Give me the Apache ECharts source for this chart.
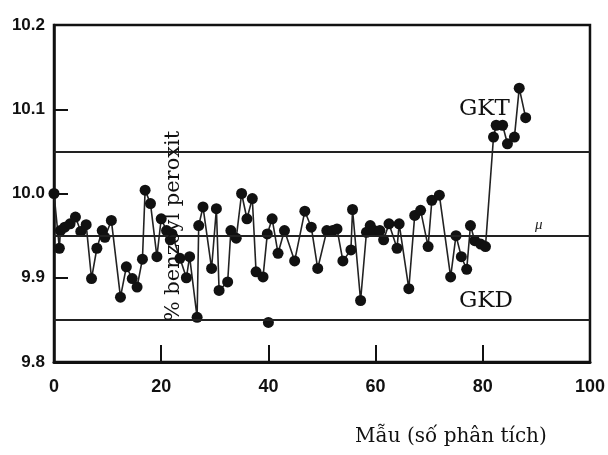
<!DOCTYPE html>
<html>
<head>
<meta charset="utf-8">
<script src="https://cdn.jsdelivr.net/npm/echarts@6/dist/echarts.min.js"></script>
<style>
  html, body { margin: 0; padding: 0; background: #fff; }
  #main { width: 608px; height: 455px; }
</style>
</head>
<body>
<div id="main"></div>
<script>
// sample number (x) and % benzoyl peroxit (y)
var sampleNo = [0, 1, 1.2, 2, 3, 4, 5, 6, 7, 8, 9, 9.5, 10.7, 12.4, 13.5, 14.6, 15.5, 16.5, 17, 18,
  19.2, 20, 21, 21.7, 22, 23.5, 24.7, 25.3, 26.7, 27, 27.8, 29.4, 30.3, 30.8, 32.4, 33, 34, 35, 36, 37,
  37.7, 39, 39.8, 40.7, 41.8, 43, 44.9, 46.8, 48, 49.2, 50.9, 52, 52.8, 53.9, 55.4, 55.7, 57.2, 58.3, 59, 59.7,
  60.8, 61.5, 62.5, 64, 64.4, 66.2, 67.3, 68.4, 69.8, 70.5, 71.9, 74, 75, 76, 77, 77.7, 78.5, 79.6, 80.5, 82,
  82.5, 83.7, 84.6, 85.9, 86.8, 88];
var peroxit = [10.0, 9.935, 9.956, 9.96, 9.964, 9.972, 9.955, 9.963, 9.899, 9.935, 9.956, 9.948, 9.968, 9.877, 9.913, 9.899, 9.889, 9.922, 10.004, 9.988,
  9.925, 9.970, 9.956, 9.945, 9.952, 9.923, 9.9, 9.925, 9.853, 9.962, 9.984, 9.911, 9.982, 9.885, 9.895, 9.956, 9.947, 10.0, 9.970, 9.994,
  9.907, 9.901, 9.952, 9.970, 9.929, 9.956, 9.92, 9.979, 9.96, 9.911, 9.956, 9.956, 9.958, 9.92, 9.933, 9.981, 9.873, 9.954, 9.962, 9.956,
  9.956, 9.945, 9.964, 9.935, 9.964, 9.887, 9.974, 9.980, 9.937, 9.992, 9.998, 9.901, 9.950, 9.925, 9.910, 9.962, 9.944, 9.940, 9.937, 10.067,
  10.081, 10.081, 10.059, 10.067, 10.125, 10.09];
// lone point below GKD (not joined by the line)
var looseNo = [40];
var looseVal = [9.847];

// control limits
var GKT = 10.048;
var MU = 9.946;
var GKD = 9.852;

var xTicks = [0, 20, 40, 60, 80, 100];
var yTicks = [9.8, 9.9, 10.0, 10.1, 10.2];

var chart = echarts.init(document.getElementById('main'), null, { renderer: 'canvas' });

var mainData = sampleNo.map(function (x, i) { return [x, peroxit[i]]; });
var looseData = looseNo.map(function (x, i) { return [x, looseVal[i]]; });

var tickFont = {
  color: '#111',
  fontFamily: '"Liberation Sans Narrow", "Liberation Sans", sans-serif',
  fontWeight: 'bold',
  fontSize: 17
};
var serif = '"DejaVu Serif", "Liberation Serif", serif';

var option = {
  backgroundColor: '#fff',
  animation: false,
  grid: {
    left: 54,
    right: 18,
    top: 25,
    bottom: 93,
    show: true,
    borderColor: '#111',
    borderWidth: 2.5
  },
  xAxis: {
    type: 'value',
    min: xTicks[0],
    max: xTicks[xTicks.length - 1],
    interval: 20,
    splitLine: { show: false },
    axisLine: { lineStyle: { color: '#111', width: 3 } },
    axisTick: { inside: true, length: 17, lineStyle: { color: '#111', width: 2 } },
    axisLabel: Object.assign({ margin: 16 }, tickFont, { fontSize: 18 })
  },
  yAxis: {
    type: 'value',
    min: yTicks[0],
    max: yTicks[yTicks.length - 1],
    interval: 0.1,
    splitLine: { show: false },
    axisLine: { lineStyle: { color: '#111', width: 2.5 } },
    axisTick: { inside: true, length: 14, lineStyle: { color: '#111', width: 2 } },
    axisLabel: Object.assign({
      margin: 9,
      formatter: function (v) { return v.toFixed(1); }
    }, tickFont)
  },
  series: [
    {
      name: 'mau',
      type: 'line',
      data: mainData,
      symbol: 'circle',
      symbolSize: 11,
      itemStyle: { color: '#111' },
      lineStyle: { color: '#222', width: 1.6 },
      markLine: {
        silent: true,
        symbol: 'none',
        label: { show: false },
        lineStyle: { color: '#222', width: 2, type: 'solid' },
        data: [{ yAxis: GKT }, { yAxis: MU }, { yAxis: GKD }]
      },
      z: 3
    },
    {
      name: 'rieng',
      type: 'scatter',
      data: looseData,
      symbol: 'circle',
      symbolSize: 11,
      itemStyle: { color: '#111', opacity: 1 },
      z: 3
    }
  ],
  graphic: [
    {
      type: 'text', left: 459, top: 98, z: 10,
      style: { text: 'GKT', fill: '#111', font: '23px ' + serif }
    },
    {
      type: 'text', left: 459, top: 290, z: 10,
      style: { text: 'GKD', fill: '#111', font: '23px ' + serif }
    },
    {
      type: 'text', left: 535, top: 218, z: 10,
      style: { text: 'μ', fill: '#222', font: 'italic 15px "Liberation Serif", serif' }
    },
    {
      type: 'text', x: 174, y: 226, rotation: Math.PI / 2, z: 10,
      style: {
        text: '% benzoyl peroxit', fill: '#111',
        font: '21px ' + serif,
        align: 'center', verticalAlign: 'middle'
      }
    },
    {
      type: 'text', left: 355, top: 427, z: 10,
      style: { text: 'Mẫu (số phân tích)', fill: '#111', font: '20px ' + serif }
    }
  ]
};

chart.setOption(option);
</script>
</body>
</html>
